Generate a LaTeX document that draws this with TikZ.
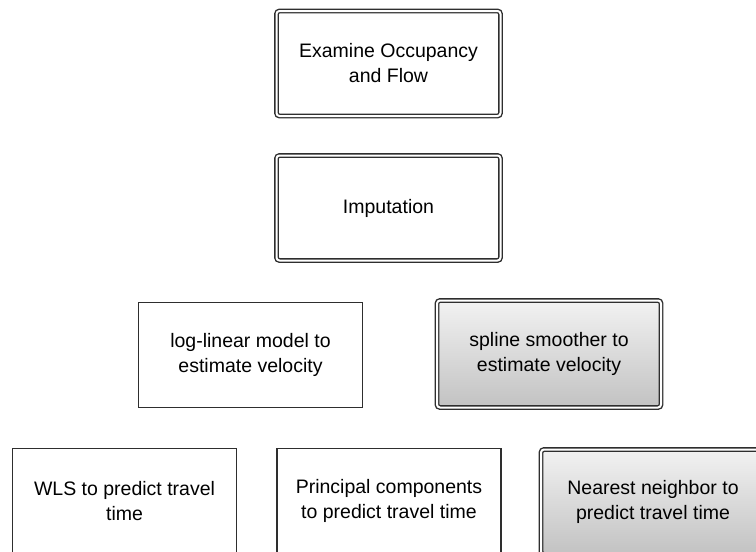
\documentclass[tikz,border=0pt]{standalone}
\usepackage{fontspec}
\setmainfont{Liberation Sans}
\usepackage{xcolor}
\usetikzlibrary{positioning}
\definecolor{cEdge}{HTML}{2E2E2E}
\definecolor{cShdT}{HTML}{F2F2F2}
\definecolor{cShdB}{HTML}{C2C2C2}

\begin{document}
\begin{tikzpicture}[x=1pt,y=-1pt,
  box/.style={draw=cEdge,line width=1.2pt,align=center,fill=white,
    font=\fontsize{19.5}{25}\selectfont,minimum width=224pt,
    minimum height=105pt,inner sep=4pt},
  dbox/.style={box,double=white,double distance=2pt,line width=1.4pt,
    rounded corners=3pt,minimum width=224pt},
  shbox/.style={dbox,top color=cShdT,bottom color=cShdB}]

  \useasboundingbox (0,0) rectangle (756,552);
  \clip (0,0) rectangle (756,552);

  \node[dbox] (occ) at (388.5,63.5) {Examine Occupancy\\and Flow};
  \node[dbox] (imp) at (388.5,208) {Imputation};

  \node[box] (loglin) at (250.5,355) {log-linear model to\\estimate velocity};
  \node[shbox,minimum height=107pt] (spline) at (549,354)
    {spline smoother to\\estimate velocity};

  \node[box] (wls) at (124.5,501) {WLS to predict travel\\time};
  \node[box] (pca) at (389,501) {Principal components\\to predict travel time};
  \node[shbox] (nn) at (653,502) {Nearest neighbor to\\predict travel time};
\end{tikzpicture}
\end{document}
